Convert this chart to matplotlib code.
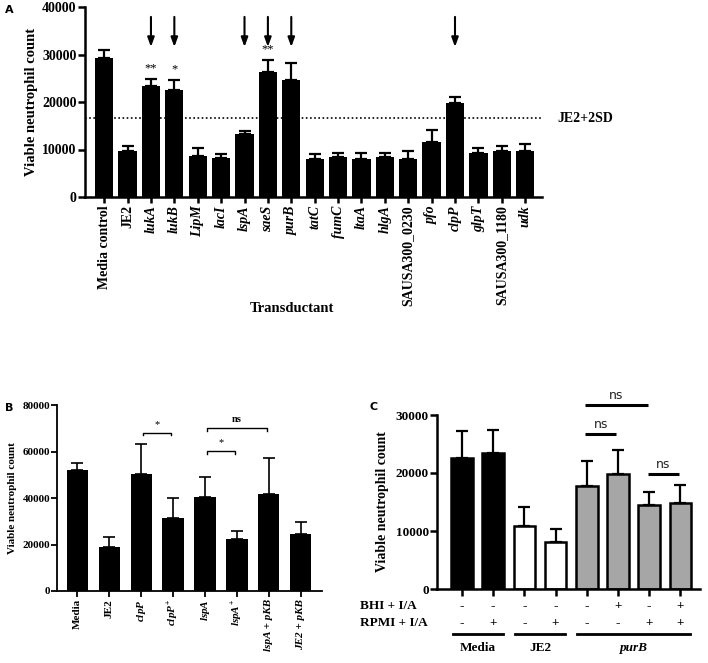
import matplotlib
matplotlib.use('Agg')
import matplotlib.pyplot as plt
import matplotlib.transforms as mtransforms
import numpy as np

plt.rcParams['font.family'] = 'Liberation Serif'
plt.rcParams['font.weight'] = 'bold'
plt.rcParams['mathtext.fontset'] = 'custom'
plt.rcParams['mathtext.it'] = 'Liberation Serif:italic:bold'
plt.rcParams['mathtext.rm'] = 'Liberation Serif:bold'
plt.rcParams['mathtext.bf'] = 'Liberation Serif:bold'

# ---- panel A data
a_labels = ['Media control', 'JE2', 'lukA', 'lukB', 'LipM', 'lacI', 'lspA', 'saeS',
            'purB', 'tatC', 'fumC', 'ltaA', 'hlgA', 'SAUSA300_0230', 'pfo', 'clpP',
            'glpT', 'SAUSA300_1180', 'udk']
a_means = [29300, 9700, 23300, 22600, 8550, 8200, 13200, 26250, 24550, 8000,
           8400, 8000, 8400, 7950, 11600, 19800, 9250, 9750, 9750]
a_errs = [1700, 1050, 1600, 2100, 1750, 850, 700, 2650, 3650, 1000,
          850, 1250, 850, 1650, 2450, 1250, 1050, 1000, 1350]
a_upright = ['Media control', 'JE2', 'SAUSA300_0230', 'SAUSA300_1180']
a_arrows = ['lukA', 'lukB', 'lspA', 'saeS', 'purB', 'clpP']
a_stars = {'lukA': '**', 'lukB': '*', 'saeS': '**'}
cutoff = 16700

# ---- panel B data
b_labels = ['Media', 'JE2', '$clpP$', '$clpP^{+}$', '$lspA$', '$lspA^{+}$',
            'lspA + pKB', 'JE2 + pKB']
b_italic = [False, False, False, False, False, False, True, True]
b_means = [52000, 19100, 50200, 31300, 40600, 22200, 41900, 24400]
b_errs = [2900, 4000, 13000, 8600, 8600, 3600, 15500, 5100]
b_brackets = [(2, 3, '*', 68100), (4, 5, '*', 60200), (4, 6, 'ns', 70200)]

# ---- panel C data
c_means = [22600, 23500, 10900, 8050, 17800, 19800, 14400, 14900]
c_errs = [4700, 4000, 3300, 2250, 4250, 4150, 2300, 3000]
c_colors = ['black', 'black', 'white', 'white', '#a6a6a6', '#a6a6a6', '#a6a6a6', '#a6a6a6']
bhi = ['-', '-', '-', '-', '-', '+', '-', '+']
rpmi = ['-', '+', '-', '+', '-', '-', '+', '+']
c_groups = [('Media', 0, 1, 'normal'), ('JE2', 2, 3, 'normal'), ('purB', 4, 7, 'italic')]
c_brackets = [(4, 6, 31700), (4, 5, 26700), (6, 7, 19800)]

W, H = 708, 663
fig = plt.figure(figsize=(W / 100, H / 100), dpi=100)


def box(l, r, b, t):
    return [l / W, 1 - b / H, (r - l) / W, (b - t) / H]


def style(ax, lw):
    for s in ['top', 'right']:
        ax.spines[s].set_visible(False)
    for s in ['left', 'bottom']:
        ax.spines[s].set_linewidth(lw)


# ================= A
ax = fig.add_axes(box(85, 542, 197, 7))
x = np.arange(len(a_labels))
ax.axhline(cutoff, color='black', linestyle=(0, (1, 1.5)), linewidth=1.2, zorder=0)
ax.bar(x, a_means, 0.78, color='black', yerr=[np.zeros(len(x)), a_errs],
       capsize=4, error_kw=dict(elinewidth=1.6, capthick=1.6, ecolor='black'))
style(ax, 1.8)
ax.set_xlim(-0.82, 18.72)
ax.set_ylim(0, 40000)
ax.set_yticks([0, 10000, 20000, 30000, 40000])
ax.tick_params(axis='y', length=5, width=1.8, labelsize=10, pad=1)
ax.tick_params(axis='x', length=4, width=1.8, labelsize=10, pad=2)
ax.set_xticks(x)
ax.set_xticklabels(a_labels, rotation=90)
for t, lab in zip(ax.get_xticklabels(), a_labels):
    if lab not in a_upright:
        t.set_fontstyle('italic')
ax.set_ylabel('Viable neutrophil count', fontsize=10.5, fontweight='bold', labelpad=3)
for lab in a_arrows:
    i = a_labels.index(lab)
    ax.annotate('', xy=(i, 31000), xytext=(i, 38500),
                arrowprops=dict(arrowstyle='-|>,head_width=0.2,head_length=0.55',
                                color='black', lw=1.5))
for lab, s in a_stars.items():
    i = a_labels.index(lab)
    ax.text(i, a_means[i] + a_errs[i] + 1000, s, ha='center', va='bottom',
            fontsize=9, fontweight='normal')
fig.text(557 / W, 1 - 118 / H, 'JE2+2SD', fontsize=10, fontweight='bold', va='center')
fig.text(292 / W, 1 - 309 / H, 'Transductant', fontsize=10.5, fontweight='bold',
         ha='center', va='center')

# ================= B
ax = fig.add_axes(box(57, 322, 591, 405))
x = np.arange(len(b_labels))
ax.bar(x, b_means, 0.66, color='black', yerr=[np.zeros(len(x)), b_errs],
       capsize=4, error_kw=dict(elinewidth=1.2, capthick=1.2, ecolor='black'))
style(ax, 1.3)
ax.set_xlim(-0.63, 7.66)
ax.set_ylim(0, 80000)
ax.set_yticks([0, 20000, 40000, 60000, 80000])
ax.tick_params(axis='y', length=4, width=1.3, labelsize=8, pad=1)
ax.tick_params(axis='x', length=4, width=1.3, labelsize=8, pad=2)
ax.set_xticks(x)
ax.set_xticklabels(b_labels, rotation=90)
for t, it in zip(ax.get_xticklabels(), b_italic):
    if it:
        t.set_fontstyle('italic')
ax.set_ylabel('Viable neutrophil count', fontsize=8, fontweight='bold', labelpad=4)
for i, j, s, yv in b_brackets:
    ax.plot([i + 0.05, i + 0.05, j - 0.05, j - 0.05], [yv - 1200, yv, yv, yv - 1200],
            color='black', lw=1.0, clip_on=False)
    ax.text((i + j) / 2, yv + 1500, s, ha='center', va='bottom', fontsize=7.5,
            fontweight='bold' if s == 'ns' else 'normal')

# ================= C
ax = fig.add_axes(box(437, 700, 589, 415))
x = np.arange(len(c_means))
ax.bar(x, c_means, 0.69, color=c_colors, edgecolor='black', linewidth=1.8,
       yerr=[np.zeros(len(x)), c_errs], capsize=4,
       error_kw=dict(elinewidth=1.6, capthick=1.6, ecolor='black'))
style(ax, 1.8)
ax.set_xlim(-0.8, 7.63)
ax.set_ylim(0, 30000)
ax.set_yticks([0, 10000, 20000, 30000])
ax.tick_params(axis='y', length=5, width=1.8, labelsize=9.5, pad=1)
ax.tick_params(axis='x', length=5, width=1.8, labelbottom=False)
ax.set_xticks(x)
ax.set_ylabel('Viable neutrophil count', fontsize=10, fontweight='bold', labelpad=5)
for i, j, yv in c_brackets:
    ax.plot([i - 0.05, j - 0.05], [yv, yv], color='black', lw=2.2, clip_on=False,
            solid_capstyle='butt')
    ax.text((i + j) / 2 - 0.05, yv + 500, 'ns', ha='center', va='bottom',
            fontsize=9, fontweight='normal', family='DejaVu Sans', color='#222222')
tr = mtransforms.blended_transform_factory(ax.transData, ax.transAxes)
for k in range(len(c_means)):
    ax.text(k, -0.098, bhi[k], transform=tr, ha='center', va='center', fontsize=9.5)
    ax.text(k, -0.195, rpmi[k], transform=tr, ha='center', va='center', fontsize=9.5)
for name, i, j, st in c_groups:
    ax.plot([i - 0.3, j + 0.3], [-0.259, -0.259], transform=tr, color='black',
            lw=2.0, clip_on=False)
    ax.text((i + j) / 2, -0.34, name, transform=tr, ha='center', va='center',
            fontsize=9.5, fontstyle=st)
fig.text(360 / W, 1 - 606 / H, 'BHI + I/A', fontsize=9.5, va='center')
fig.text(360 / W, 1 - 623 / H, 'RPMI + I/A', fontsize=9.5, va='center')

# panel letters
for lab, px, py in [('A', 5, 10), ('B', 5, 408), ('C', 370, 407)]:
    fig.text(px / W, 1 - py / H, lab, fontsize=8, fontweight='bold',
             family='DejaVu Sans', va='center')

fig.savefig('out.png', dpi=100)
